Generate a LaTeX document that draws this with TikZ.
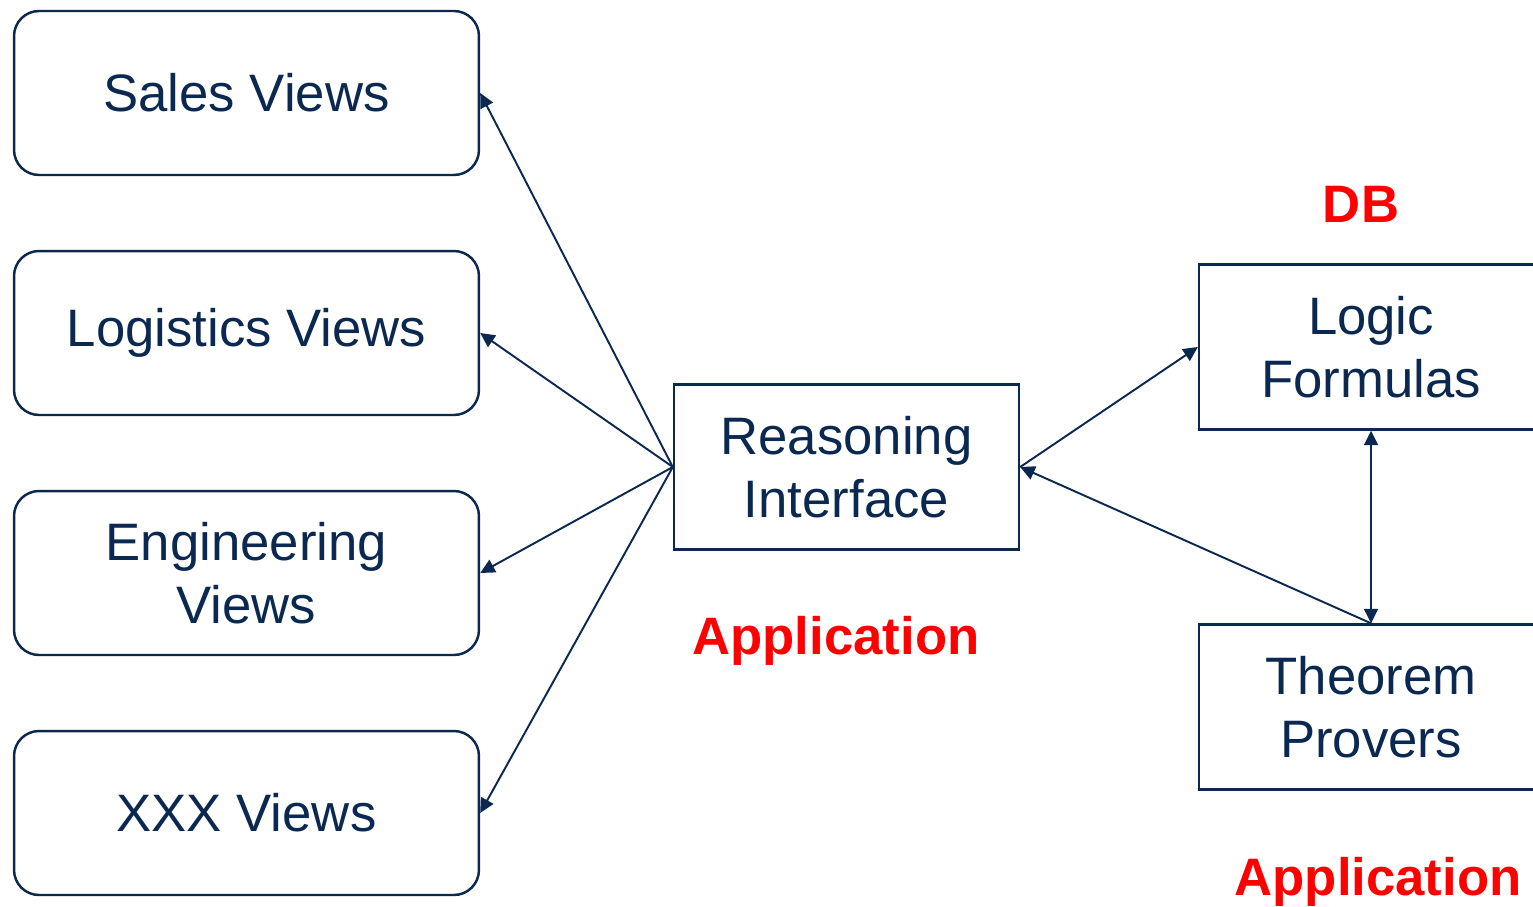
\documentclass[tikz,border=0pt]{standalone}
\usepackage{fontspec}
\setmainfont{Liberation Sans}
\usepackage{xcolor}
\usetikzlibrary{arrows.meta,positioning}
\definecolor{ink}{HTML}{0A2850}
\definecolor{alert}{HTML}{FF0000}
\tikzset{
  >={Triangle[length=2.9mm,width=2.8mm]},
  link/.style={->, draw=ink, line width=1.1pt},
  viewbox/.style={draw=ink, line width=1.4pt, rounded corners=5mm, minimum width=9.3cm,
    minimum height=3.28cm, align=center, text=ink, font=\fontsize{30}{36}\selectfont},
  corebox/.style={draw=ink, line width=1.4pt, minimum width=6.9cm, minimum height=3.3cm,
    align=center, text=ink, font=\fontsize{30}{36}\selectfont},
  redlabel/.style={text=alert, font=\fontsize{30}{36}\selectfont\bfseries},
}
\begin{document}
\begin{tikzpicture}[x=0.02cm,y=-0.02cm]
\useasboundingbox (0,0) rectangle (1533,906);

% -----------------------------------------------------------------------------
% View boxes (left column)
% -----------------------------------------------------------------------------
\node[viewbox] (sales) at (246.5,93) {Sales Views};
\node[viewbox] (logistics) at (246.5,333) {Logistics Views};
\node[viewbox] (engineering) at (246.5,573) {Engineering\\Views};
\node[viewbox] (xxx) at (246.5,813) {XXX Views};

% -----------------------------------------------------------------------------
% Reasoning interface (application)
% -----------------------------------------------------------------------------
\node[corebox] (reason) at (846.5,467) {Reasoning\\Interface};
\node[redlabel] (app1) at (836,641) {Application};

\foreach \v in {sales,logistics,engineering,xxx}{
  \draw[link] (reason.west) -- (\v.east);
}

% -----------------------------------------------------------------------------
% DB and theorem provers (right column, cut by the page edge)
% -----------------------------------------------------------------------------
\node[redlabel] (db) at (1361,204) {DB};
\node[corebox, minimum width=6.88cm] (logic) at (1371,347) {Logic\\Formulas};
\node[corebox, minimum width=6.88cm] (prover) at (1371,707) {Theorem\\Provers};
\node[redlabel] (app2) at (1378,882) {Application};

\draw[link] (reason.east) -- (logic.west);
\draw[link] (prover.north) -- (reason.east);
\draw[link, <->] (logic.south) -- (prover.north);

\end{tikzpicture}
\end{document}
